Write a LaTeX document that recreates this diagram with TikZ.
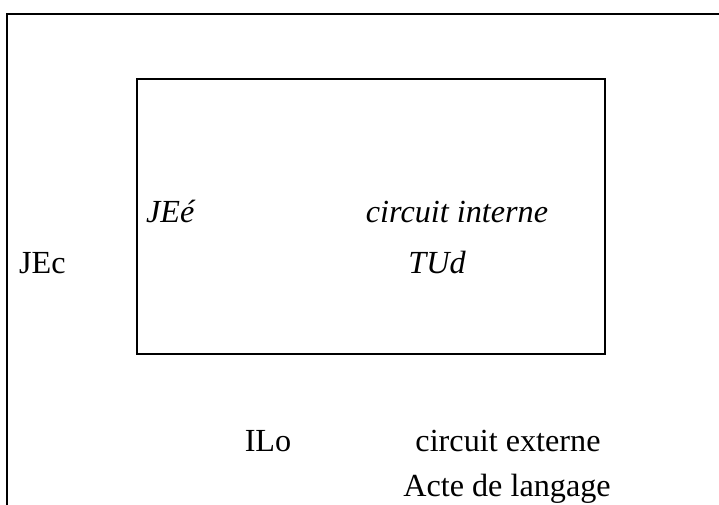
\documentclass[tikz,border=0pt]{standalone}
\usepackage{fontspec}
\setmainfont{Liberation Serif}
\usetikzlibrary{positioning}

\begin{document}
\begin{tikzpicture}[x=0.3727pt, y=-0.3727pt, line width=0.8pt,
    font=\fontsize{12}{14}\selectfont,
    label/.style={inner sep=0pt, anchor=base},
    cadre/.style={draw, minimum width=468*0.3727pt, minimum height=275*0.3727pt, inner sep=0pt}]
  \useasboundingbox (0,0) rectangle (719,504);
  \clip (0,0) rectangle (719,504);
  % circuit externe
  \draw (730,14) -- (7,14) -- (7,515);
  % circuit interne
  \node[cadre] (interne) at (371,216.5) {};
  \node[label, anchor=base west] (jee) at (145,222) {\itshape JEé};
  \node[label] (cint) at (457,222) {\itshape circuit interne};
  \node[label] (tud) at (437,273) {\itshape TUd};
  \node[label, anchor=base west] (jec) at (18,273) {JEc};
  \node[label] (ilo) at (268,451) {ILo};
  \node[label] (cext) at (508,451) {circuit externe};
  \node[label] (acte) at (507,496) {Acte de langage};
\end{tikzpicture}
\end{document}
